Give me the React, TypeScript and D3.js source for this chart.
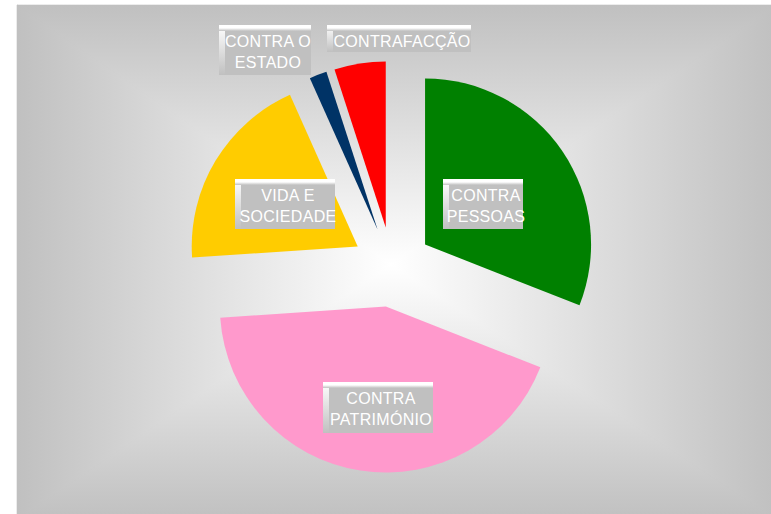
import React from "react";
import * as d3 from "d3";

const categories = ["CONTRA PESSOAS", "CONTRA PATRIMÓNIO", "VIDA E SOCIEDADE", "CONTRA O ESTADO", "CONTRAFACÇÃO"];
const values = [31.0, 43.0, 19.4, 1.7, 5.0];
const labelLines = [["CONTRA", "PESSOAS"], ["CONTRA", "PATRIMÓNIO"], ["VIDA E", "SOCIEDADE"], ["CONTRA O", "ESTADO"], ["CONTRAFACÇÃO"]];
const colors = ["#008000", "#ff99cc", "#ffcc00", "#003366", "#ff0000"];

// layout of label boxes (x, y, width, height)
const labelBoxes = [
  [443, 179, 80, 50],
  [323, 382, 110, 51],
  [235, 179, 100, 50],
  [219, 25, 92, 50],
  [327, 25, 144, 27],
];

const W = 771, H = 514;
const BG = { x: 17, y: 5, w: 760, h: 515 };
const CX = 392, CY = 267, R = 166, EXPLODE = 40;
const GRAY = "#c0c0c0";

export default function App() {
  const pie = d3.pie<number>().sort(null).value((d) => d).startAngle(0).endAngle(2 * Math.PI);
  const arcs = pie(values);
  const arc = d3.arc<d3.PieArcDatum<number>>().innerRadius(0).outerRadius(R);

  const gx = BG.x + BG.w / 2 - 6;
  const gy = BG.y + BG.h / 2 + 2;
  const x0 = BG.x, y0 = BG.y, x1 = BG.x + BG.w, y1 = BG.y + BG.h;

  return (
    <svg width={W} height={H} style={{ position: "absolute", left: 0, top: 0 }}>
      <defs>
        <linearGradient id="gTop" gradientUnits="userSpaceOnUse" x1={0} y1={y0} x2={0} y2={gy}>
          <stop offset="0" stopColor={GRAY} />
          <stop offset="1" stopColor="#ffffff" />
        </linearGradient>
        <linearGradient id="gBot" gradientUnits="userSpaceOnUse" x1={0} y1={y1} x2={0} y2={gy}>
          <stop offset="0" stopColor={GRAY} />
          <stop offset="1" stopColor="#ffffff" />
        </linearGradient>
        <linearGradient id="gLeft" gradientUnits="userSpaceOnUse" x1={x0} y1={0} x2={gx} y2={0}>
          <stop offset="0" stopColor={GRAY} />
          <stop offset="1" stopColor="#ffffff" />
        </linearGradient>
        <linearGradient id="gRight" gradientUnits="userSpaceOnUse" x1={x1} y1={0} x2={gx} y2={0}>
          <stop offset="0" stopColor={GRAY} />
          <stop offset="1" stopColor="#ffffff" />
        </linearGradient>
        <radialGradient id="gBase" gradientUnits="userSpaceOnUse" cx={gx} cy={gy} r={380}>
          <stop offset="0" stopColor="#ffffff" />
          <stop offset="1" stopColor={GRAY} />
        </radialGradient>
        <linearGradient id="bevTop" x1="0" y1="0" x2="0" y2="1">
          <stop offset="0" stopColor="#ffffff" />
          <stop offset="0.5" stopColor="#ffffff" />
          <stop offset="1" stopColor={GRAY} />
        </linearGradient>
        <linearGradient id="bevLeft" x1="0" y1="0" x2="0" y2="1">
          <stop offset="0" stopColor="#ffffff" />
          <stop offset="1" stopColor={GRAY} />
        </linearGradient>
      </defs>

      <rect x={0} y={0} width={W} height={H} fill="#ffffff" />
      <rect x={x0} y={y0} width={BG.w} height={BG.h} fill="url(#gBase)" />
      <polygon points={`${x0},${y0} ${x1},${y0} ${gx},${gy}`} fill="url(#gTop)" stroke="url(#gTop)" strokeWidth={0.6} />
      <polygon points={`${x0},${y1} ${x1},${y1} ${gx},${gy}`} fill="url(#gBot)" stroke="url(#gBot)" strokeWidth={0.6} />
      <polygon points={`${x0},${y0} ${x0},${y1} ${gx},${gy}`} fill="url(#gLeft)" stroke="url(#gLeft)" strokeWidth={0.6} />
      <polygon points={`${x1},${y0} ${x1},${y1} ${gx},${gy}`} fill="url(#gRight)" stroke="url(#gRight)" strokeWidth={0.6} />

      <g transform={`translate(${CX},${CY})`}>
        {arcs.map((a, i) => {
          const mid = (a.startAngle + a.endAngle) / 2;
          const dx = Math.sin(mid) * EXPLODE;
          const dy = -Math.cos(mid) * EXPLODE;
          return (
            <path key={categories[i]} d={arc(a) || ""} fill={colors[i]} transform={`translate(${dx},${dy})`} />
          );
        })}
      </g>

      {categories.map((c, i) => {
        const [bx, by, bw, bh] = labelBoxes[i];
        const lines = labelLines[i];
        const bev = 6;
        const tx = bx + bev + (bw - bev) / 2;
        return (
          <g key={"lab" + c}>
            <rect x={bx} y={by} width={bw} height={bh} fill={GRAY} />
            <rect x={bx} y={by} width={bev} height={bh} fill="url(#bevLeft)" />
            <rect x={bx} y={by} width={bw} height={bev} fill="url(#bevTop)" />
            {lines.map((ln, j) => (
              <text
                key={ln}
                x={tx}
                y={by + 21.5 + j * 21.5}
                textAnchor="middle"
                fontFamily="'Liberation Sans', Arial, sans-serif"
                fontSize={16}
                letterSpacing={0.3}
                fill="#ffffff"
              >
                {ln}
              </text>
            ))}
          </g>
        );
      })}
    </svg>
  );
}
